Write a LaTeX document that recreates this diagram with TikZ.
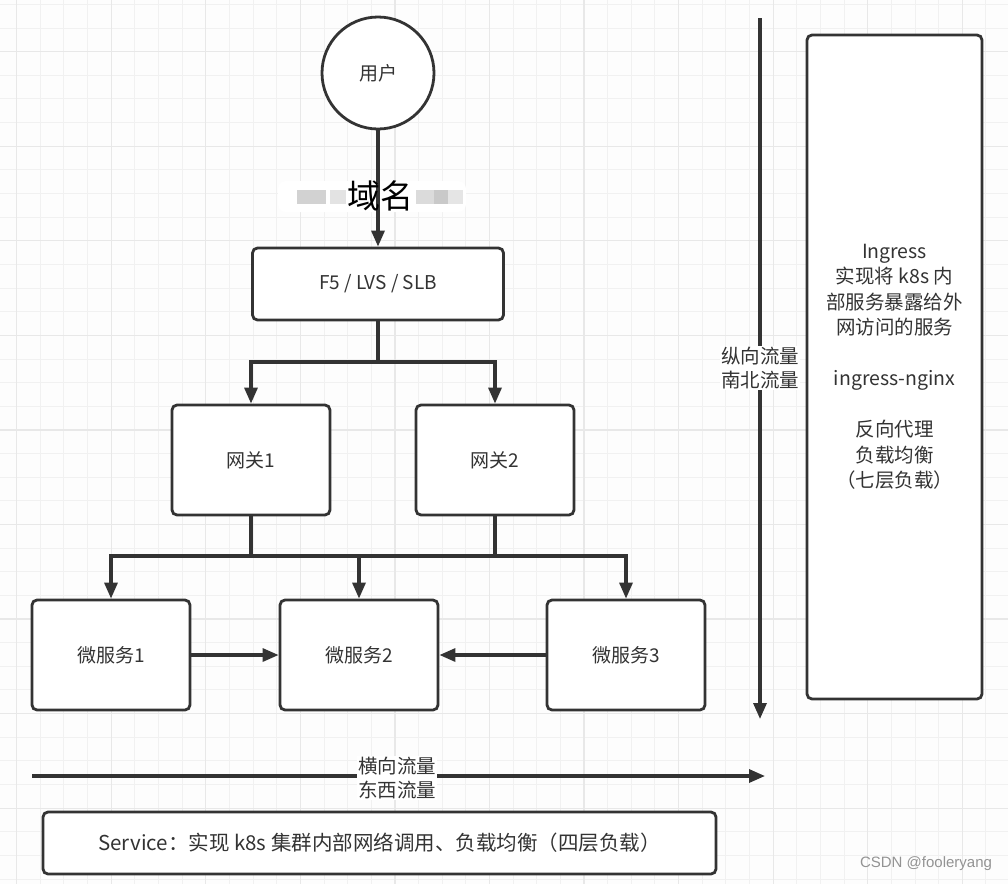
\documentclass[tikz,border=0pt]{standalone}
\usepackage{fontspec}
\setmainfont{Noto Sans CJK SC}
\newfontfamily\wmfont{Liberation Sans}
\usetikzlibrary{arrows.meta}
\definecolor{ink}{HTML}{333333}
\definecolor{gridminor}{HTML}{F1F1F1}
\definecolor{gridmajor}{HTML}{E8E8E8}
\definecolor{bgc}{HTML}{FDFDFD}
\tikzset{
  box/.style={draw=ink, line width=2.8pt, rounded corners=5pt, fill=white, text=ink,
    font=\fontsize{19}{24}\selectfont, inner sep=0pt, align=center},
  conn/.style={draw=ink, line width=3.2pt, -{Triangle[length=16pt,width=13pt]}},
  plain/.style={draw=ink, line width=3.2pt},
  flowlabel/.style={fill=white, text=ink, inner sep=1pt, align=center, font=\fontsize{19.5}{24}\selectfont},
}
\begin{document}
\begin{tikzpicture}[x=1pt,y=-1pt]
\useasboundingbox (0,0) rectangle (1008,884);
\fill[bgc] (0,0) rectangle (1008,884);
% grid
\foreach \i in {0,...,41} {\pgfmathsetmacro\xx{16.7+23.64*\i}\draw[gridminor,line width=1pt] (\xx,0)--(\xx,884);}
\foreach \i in {0,...,37} {\pgfmathsetmacro\yy{4.4+23.64*\i}\draw[gridminor,line width=1pt] (0,\yy)--(1008,\yy);}
\foreach \i in {0,...,10} {\pgfmathsetmacro\xx{16.7+94.56*\i}\draw[gridmajor,line width=1.2pt] (\xx,0)--(\xx,884);}
\foreach \i in {0,...,9} {\pgfmathsetmacro\yy{51.7+94.56*\i}\draw[gridmajor,line width=1.2pt] (0,\yy)--(1008,\yy);}
% blurred band behind the domain label
\fill[white, rounded corners=8pt] (278,181) rectangle (466,212);
\fill[gray!35] (297,190) rectangle (326,204);
\fill[gray!22] (330,190) rectangle (346,204);
\fill[gray!28] (416,190) rectangle (434,204);
\fill[gray!42] (434,190) rectangle (448,204);
\fill[gray!20] (448,190) rectangle (463,204);
% nodes
\node[box, circle, rounded corners=0pt, minimum size=112pt] (user) at (378,73) {用户};
\node[box, minimum width=251pt, minimum height=72pt] (f5) at (378,284) {F5 / LVS / SLB};
\node[box, minimum width=158pt, minimum height=110pt] (gw1) at (251,460) {网关1};
\node[box, minimum width=158pt, minimum height=110pt] (gw2) at (495,460) {网关2};
\node[box, minimum width=158pt, minimum height=110pt] (ms1) at (111,655) {微服务1};
\node[box, minimum width=158pt, minimum height=110pt] (ms2) at (359,655) {微服务2};
\node[box, minimum width=158pt, minimum height=110pt] (ms3) at (626,655) {微服务3};
\node[box, minimum width=175pt, minimum height=664pt, font=\fontsize{19.5}{25.5}\selectfont] (ing) at (894.5,367)
  {Ingress\\实现将 k8s 内\\部服务暴露给外\\网访问的服务\\[25.5pt]ingress-nginx\\[25.5pt]反向代理\\负载均衡\\（七层负载）};
\node[box, minimum width=673pt, minimum height=62pt, font=\fontsize{20.5}{24}\selectfont] (svc) at (379.5,843)
  {Service：实现 k8s 集群内部网络调用、负载均衡（四层负载）};
% connectors
\coordinate (split) at (378,362);
\coordinate (bus) at (0,556);
\draw[conn] (user) -- (f5);
\node[font=\fontsize{33}{33}\selectfont, text=black, inner sep=0pt] (dom) at (380,196) {域名};
\draw[plain] (f5.south) -- (split);
\draw[conn] (split) -| (gw1.north);
\draw[conn] (split) -| (gw2.north);
\draw[conn] (gw1.south) -- (gw1.south |- bus) -| (ms1.north);
\draw[conn] (gw1.south |- bus) -| (ms2.north);
\draw[conn] (gw2.south) -- (gw2.south |- bus) -| (ms3.north);
\draw[plain] (gw1.south |- bus) -- (gw2.south |- bus);
\draw[conn] (ms1.east) -- (ms2.west);
\draw[conn] (ms3.west) -- (ms2.east);
% vertical flow
\coordinate (vtop) at (760,18);
\coordinate (vbot) at (760,719);
\draw[conn] (vtop) -- (vbot);
\node[flowlabel] (vlab) at (760,368) {纵向流量\\南北流量};
% horizontal flow
\coordinate (hl) at (32,776);
\coordinate (hr) at (765,776);
\draw[conn] (hl) -- (hr);
\node[flowlabel] (hlab) at (397,778) {横向流量\\东西流量};
% watermark
\node[text=gray!85, font=\wmfont\fontsize{15}{15}\selectfont, inner sep=0pt] (wm) at (926,864) {CSDN @fooleryang};
\end{tikzpicture}
\end{document}
